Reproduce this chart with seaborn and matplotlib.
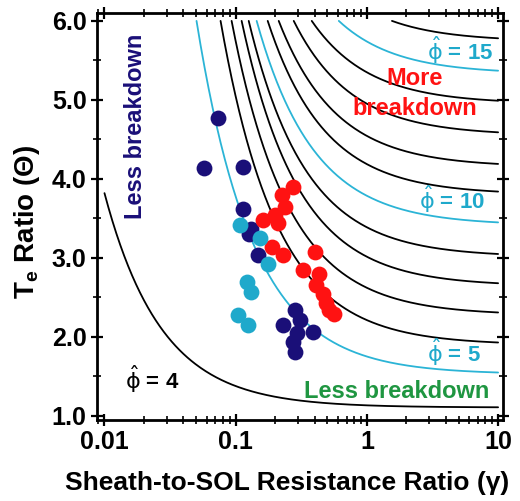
import numpy as np
import pandas as pd
import matplotlib
matplotlib.use("Agg")
import matplotlib.pyplot as plt
import seaborn as sns

# ---------------- data ----------------
levels = [4, 5, 6, 7, 8, 9, 10, 11, 12, 13, 14, 15, 16]
highlight_levels = [5, 10, 15]
# Theta where each phi-hat curve ends at gamma = 10
theta_at_gamma10 = [1.11, 1.55, 1.93, 2.31, 2.68, 3.05, 3.45, 3.84, 4.19, 4.59, 4.99, 5.37, 5.78]
# other end of each curve (top edge Theta = 6, or left end gamma = 0.01)
anchor_gamma = [0.01, 0.0503, 0.0767, 0.0931, 0.111, 0.1257, 0.1445, 0.1754, 0.2128, 0.277, 0.380, 0.611, 1.553]
anchor_theta = [3.82, 6.0, 6.0, 6.0, 6.0, 6.0, 6.0, 6.0, 6.0, 6.0, 6.0, 6.0, 6.0]

navy_gamma = [0.0736, 0.0577, 0.114, 0.114, 0.131, 0.126, 0.1485, 0.283, 0.231, 0.292, 0.390, 0.283, 0.275, 0.309]
navy_theta = [4.77, 4.14, 4.15, 3.62, 3.37, 3.30, 3.04, 2.34, 2.15, 2.05, 2.06, 1.81, 1.94, 2.22]

red_gamma = [0.275, 0.224, 0.238, 0.200, 0.162, 0.211, 0.188, 0.231, 0.402,
             0.326, 0.431, 0.409, 0.462, 0.487, 0.514, 0.561]
red_theta = [3.90, 3.80, 3.65, 3.54, 3.48, 3.44, 3.14, 3.04, 3.08,
             2.85, 2.80, 2.66, 2.54, 2.43, 2.34, 2.29]

light_gamma = [0.108, 0.153, 0.177, 0.121, 0.131, 0.1047, 0.1248]
light_theta = [3.42, 3.25, 2.92, 2.70, 2.57, 2.28, 2.15]

# ---------------- styling ----------------
sns.set_theme(style="white")
plt.rcParams["font.family"] = ["Liberation Sans", "DejaVu Sans"]
plt.rcParams["font.weight"] = "bold"
plt.rcParams["axes.labelweight"] = "bold"
for k in ["text.color", "axes.labelcolor", "xtick.color", "ytick.color", "axes.edgecolor"]:
    plt.rcParams[k] = "black"
plt.rcParams["mathtext.fontset"] = "custom"
plt.rcParams["mathtext.rm"] = "DejaVu Sans:weight=normal"
plt.rcParams["mathtext.it"] = "DejaVu Sans:weight=normal"
plt.rcParams["mathtext.bf"] = "Liberation Sans:weight=bold"

NAVY = "#1a0f78"
LIGHT = "#1fa9cb"
RED = "#ff1212"
CYAN_LINE = "#2bb4d6"
GREEN = "#1f9641"

fig = plt.figure(figsize=(5.20, 5.01), dpi=100)
ax = fig.add_axes([97 / 520, 1 - 420 / 501, 406 / 520, 407 / 501])

# ---------------- contour curves of phi-hat ----------------
rows = []
for lev, t10, ga, ta in zip(levels, theta_at_gamma10, anchor_gamma, anchor_theta):
    B = (ta - t10) / (1.0 / ga - 1.0 / 10.0)
    A = t10 - B / 10.0
    g = np.logspace(np.log10(ga), 1.0, 300)
    for gi in g:
        rows.append({"gamma": gi, "theta": A + B / gi, "level": lev})
curves = pd.DataFrame(rows)
palette = {lev: (CYAN_LINE if lev in highlight_levels else "black") for lev in levels}
sns.lineplot(data=curves, x="gamma", y="theta", hue="level", palette=palette,
             estimator=None, sort=False, linewidth=1.3, legend=False, ax=ax)

# ---------------- data points ----------------
ms = 130
sns.scatterplot(x=navy_gamma, y=navy_theta, color=NAVY, s=ms, linewidth=0, ax=ax, zorder=3)
sns.scatterplot(x=red_gamma, y=red_theta, color=RED, s=ms, linewidth=0, ax=ax, zorder=4)
sns.scatterplot(x=light_gamma, y=light_theta, color=LIGHT, s=ms, linewidth=0, ax=ax, zorder=5)

# ---------------- axes ----------------
ax.set_xscale("log")
ax.set_xlim(0.00877, 10.9)
ax.set_ylim(0.949, 6.10)
ax.set_xticks([0.01, 0.1, 1, 10])
ax.set_xticklabels(["0.01", "0.1", "1", "10"])
ax.set_yticks([1, 2, 3, 4, 5, 6])
ax.set_yticklabels(["1.0", "2.0", "3.0", "4.0", "5.0", "6.0"])
ax.yaxis.set_minor_locator(matplotlib.ticker.MultipleLocator(0.5))
ax.xaxis.set_minor_locator(matplotlib.ticker.LogLocator(base=10, subs=np.arange(2, 10)))
ax.xaxis.set_minor_formatter(matplotlib.ticker.NullFormatter())
for s in ax.spines.values():
    s.set_linewidth(2.0)
    s.set_color("black")
ax.tick_params(which="both", direction="inout", top=True, right=True,
               left=True, bottom=True, color="black")
ax.tick_params(which="major", length=9, width=1.6, labelsize=18, pad=3)
ax.tick_params(which="minor", length=6, width=1.2)
for lab in ax.get_xticklabels() + ax.get_yticklabels():
    lab.set_fontweight("bold")

ax.set_xlabel("Sheath-to-SOL Resistance Ratio (γ)", fontsize=19, fontweight="bold")
ax.set_ylabel(r"T$_{\mathbf{e}}$ Ratio (Θ)", fontsize=20, fontweight="bold")
ax.xaxis.set_label_coords(0.469, -0.125)
ax.yaxis.set_label_coords(-0.135, 0.487)

# ---------------- annotations ----------------
ax.text(0.01738, 4.66, "Less breakdown", rotation=90, color=NAVY, fontsize=17,
        fontweight="bold", ha="center", va="center")
ax.text(2.325, 5.19, "More", color=RED, fontsize=17, fontweight="bold",
        ha="center", va="baseline")
ax.text(2.325, 4.81, "breakdown", color=RED, fontsize=17, fontweight="bold",
        ha="center", va="baseline")
ax.text(1.696, 1.228, "Less breakdown", color=GREEN, fontsize=17, fontweight="bold",
        ha="center", va="baseline")
ax.text(5.12, 5.63, r"$\hat{\phi}$ = 15", color=LIGHT, fontsize=16, fontweight="bold",
        ha="center", va="center")
ax.text(4.45, 3.75, r"$\hat{\phi}$ = 10", color=LIGHT, fontsize=16, fontweight="bold",
        ha="center", va="center")
ax.text(4.61, 1.81, r"$\hat{\phi}$ = 5", color=LIGHT, fontsize=16, fontweight="bold",
        ha="center", va="center")
ax.text(0.0230, 1.47, r"$\hat{\phi}$ = 4", color="black", fontsize=16, fontweight="bold",
        ha="center", va="center")

fig.savefig("out.png", dpi=100)
